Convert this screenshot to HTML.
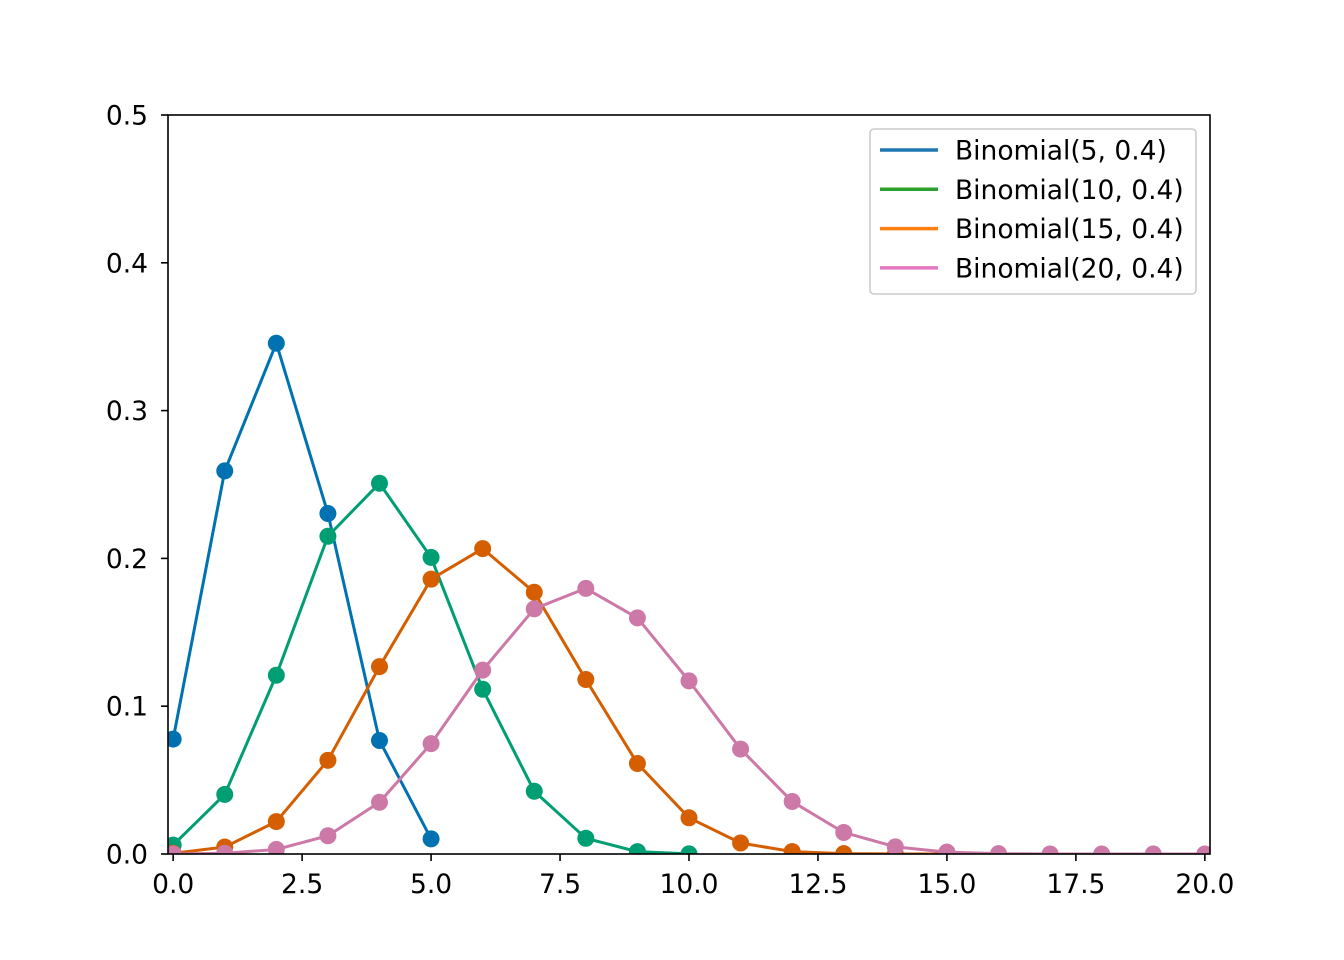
<!DOCTYPE html>
<html><head><meta charset="utf-8"><style>body{margin:0;background:#fff}svg{display:block}text{font-family:"DejaVu Sans","Liberation Sans",sans-serif;font-size:26.5px;fill:#000}</style></head>
<body>
<svg id="chart" width="1344" height="960">
<defs><clipPath id="clip"><rect x="168" y="115" width="1042" height="739"/></clipPath></defs>
<rect x="0" y="0" width="1344" height="960" fill="#fff"/>
<g id="series" clip-path="url(#clip)"></g>
<g id="axes"></g>
</svg>
<script>
const seriesNames=["Binomial(5, 0.4)","Binomial(10, 0.4)","Binomial(15, 0.4)","Binomial(20, 0.4)"];
const b5=[0.07776,0.2592,0.3456,0.2304,0.0768,0.01024];
const b10=[0.006047,0.040311,0.120932,0.214991,0.250823,0.200658,0.111477,0.042467,0.010617,0.001573,0.000105];
const b15=[0.00047,0.004702,0.021942,0.063388,0.126776,0.185938,0.206598,0.177084,0.118056,0.061214,0.024486,0.00742,0.001649,0.000254,0.000024,0.000001];
const b20=[0.0000366,0.000487,0.003087,0.01235,0.034991,0.074647,0.124412,0.165882,0.179706,0.159738,0.117142,0.070995,0.035497,0.014563,0.004854,0.001294,0.00027,0.000042,0.000005,0.0000003,0];
const xTicks=[0,2.5,5,7.5,10,12.5,15,17.5,20];
const xTickLabels=["0.0","2.5","5.0","7.5","10.0","12.5","15.0","17.5","20.0"];
const yTicks=[0,0.1,0.2,0.3,0.4,0.5];
const yTickLabels=["0.0","0.1","0.2","0.3","0.4","0.5"];
const L=168,R=1210,T=115,B=854,xmin=-0.1,xmax=20.1,ymin=0,ymax=0.5;
const sx=v=>L+(v-xmin)/(xmax-xmin)*(R-L);
const sy=v=>B-(v-ymin)/(ymax-ymin)*(B-T);
const NS="http://www.w3.org/2000/svg";
function mk(tag,attrs,parent){const e=document.createElementNS(NS,tag);for(const k in attrs)e.setAttribute(k,attrs[k]);parent.appendChild(e);return e;}
const data=[b5,b10,b15,b20];
const colors=["#0072B2","#009E73","#D55E00","#CC79A7"];
const legendColors=["#1f77b4","#2ca02c","#ff7f0e","#e377c2"];
const sg=document.getElementById('series');
data.forEach((arr,si)=>{
  const g=mk('g',{},sg);
  
  
  const p=mk('polyline',{points:arr.map((v,i)=>sx(i)+','+sy(v)).join(' '),fill:'none',stroke:colors[si],'stroke-width':3,'stroke-linejoin':'round'},g);
  
  
  arr.forEach((v,i)=>{const c=mk('circle',{cx:sx(i),cy:sy(v),r:8.5,fill:colors[si]},g);
    
    });
});
const ax=document.getElementById('axes');
const fr=mk('rect',{x:L,y:T,width:R-L,height:B-T,fill:'none',stroke:'#000','stroke-width':1.6},ax);


xTicks.forEach((v,i)=>{mk('line',{x1:sx(v),x2:sx(v),y1:B,y2:B+7,stroke:'#000','stroke-width':1.6},ax);
  const t=mk('text',{x:sx(v),y:B+39,'text-anchor':'middle'},ax);t.textContent=xTickLabels[i];
  
  });
yTicks.forEach((v,i)=>{mk('line',{x1:L-7,x2:L,y1:sy(v),y2:sy(v),stroke:'#000','stroke-width':1.6},ax);
  const t=mk('text',{x:L-20,y:sy(v)+9.5,'text-anchor':'end'},ax);t.textContent=yTickLabels[i];
  
  });
const lg=mk('g',{},ax);


mk('rect',{x:870,y:129,width:326,height:165,rx:4,fill:'#fff','fill-opacity':0.8,stroke:'#ccc','stroke-width':1.6},lg);
seriesNames.forEach((n,i)=>{const y=150+i*39.3;
  const e=mk('g',{},lg);
  
  
  mk('line',{x1:880,x2:938,y1:y,y2:y,stroke:legendColors[i],'stroke-width':3.5},e);
  const t=mk('text',{x:955,y:y+9.5},e);t.textContent=n;});
</script>
</body></html>
